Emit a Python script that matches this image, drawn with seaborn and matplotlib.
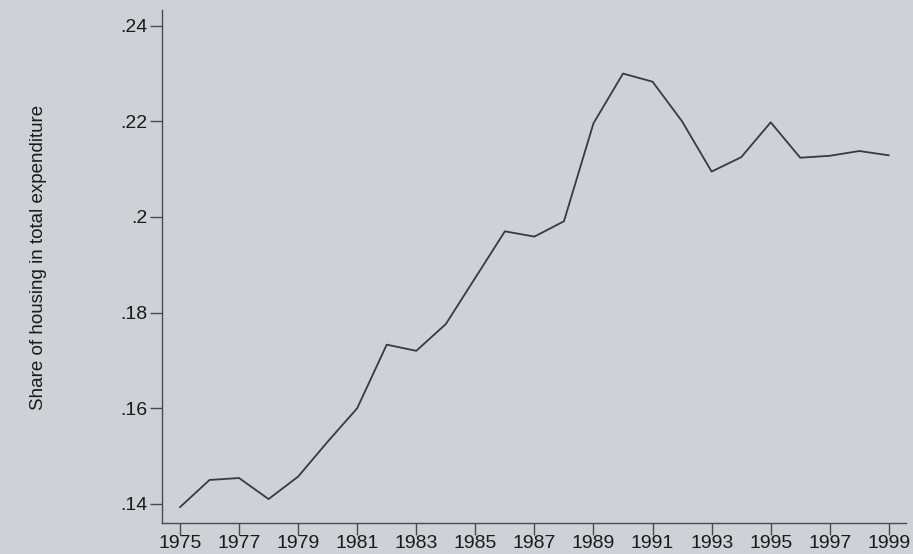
import numpy as np
import pandas as pd
import matplotlib
matplotlib.use('Agg')
import matplotlib.pyplot as plt
import seaborn as sns

## Datos
years = list(range(1975, 2000))
housing_share = [0.1393, 0.1450, 0.1454, 0.1410, 0.1457, 0.1530, 0.1600, 0.1733,
                 0.1720, 0.1776, 0.1873, 0.1970, 0.1959, 0.1991, 0.2196, 0.2300,
                 0.2283, 0.2200, 0.2095, 0.2125, 0.2198, 0.2124, 0.2128, 0.2138,
                 0.2129]
y_ticks = [0.14, 0.16, 0.18, 0.2, 0.22, 0.24]
y_tick_labels = ['.14', '.16', '.18', '.2', '.22', '.24']
x_ticks = list(range(1975, 2000, 2))

df = pd.DataFrame({'year': years, 'share': housing_share})

sns.set_style('ticks')
plt.rcParams['font.family'] = ['Liberation Sans', 'DejaVu Sans']

bg = '#d0d1d6'
fig = plt.figure(figsize=(9.13, 5.54), dpi=100, facecolor=bg)
ax = fig.add_axes([0.1774, 0.056, 0.8149, 0.926], facecolor=bg)

sns.lineplot(data=df, x='year', y='share', color='#3a3a3e', linewidth=1.3, ax=ax)

ax.set_xlim(1974.39, 1999.58)
ax.set_ylim(0.136, 0.2433)
ax.set_xticks(x_ticks)
ax.set_xticklabels([str(x) for x in x_ticks], fontsize=14, color='#1a1a1a')
ax.set_yticks(y_ticks)
ax.set_yticklabels(y_tick_labels, fontsize=14, color='#1a1a1a')
ax.tick_params(axis='x', length=8.5, width=1.0, color='#4a4a4e', pad=0)
ax.tick_params(axis='y', length=8.5, width=1.0, color='#4a4a4e', pad=2)

# etiqueta del eje y
ax.set_xlabel('')
ax.set_ylabel('Share of housing in total expenditure', fontsize=13.5, color='#1a1a1a')
ax.yaxis.set_label_coords(-0.155, 0.518)

for side in ['top', 'right']:
    ax.spines[side].set_visible(False)
for side in ['left', 'bottom']:
    ax.spines[side].set_color('#4a4a4e')
    ax.spines[side].set_linewidth(1.0)

plt.savefig('out.png', dpi=100, facecolor=bg)
